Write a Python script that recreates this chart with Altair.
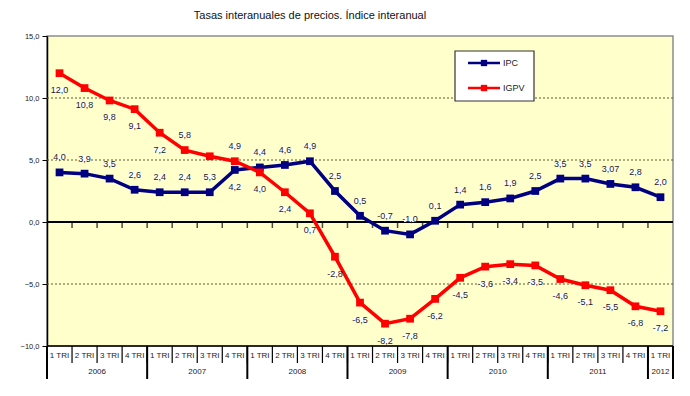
import altair as alt
import pandas as pd

# ---------------- data ----------------
quarters = ["1 TRI", "2 TRI", "3 TRI", "4 TRI"] * 6 + ["1 TRI"]
years = ["2006", "2007", "2008", "2009", "2010", "2011", "2012"]
year_quarters = [4, 4, 4, 4, 4, 4, 1]

ipc = [4.0, 3.9, 3.5, 2.6, 2.4, 2.4, 2.4, 4.2, 4.4, 4.6, 4.9, 2.5, 0.5,
       -0.7, -1.0, 0.1, 1.4, 1.6, 1.9, 2.5, 3.5, 3.5, 3.07, 2.8, 2.0]
igpv = [12.0, 10.8, 9.8, 9.1, 7.2, 5.8, 5.3, 4.9, 4.0, 2.4, 0.7, -2.8, -6.5,
        -8.2, -7.8, -6.2, -4.5, -3.6, -3.4, -3.5, -4.6, -5.1, -5.5, -6.8, -7.2]
ipc_labels = ["4,0", "3,9", "3,5", "2,6", "2,4", "2,4", "5,3", "4,2", "4,4",
              "4,6", "4,9", "2,5", "0,5", "-0,7", "-1,0", "0,1", "1,4", "1,6",
              "1,9", "2,5", "3,5", "3,5", "3,07", "2,8", "2,0"]
igpv_labels = ["12,0", "10,8", "9,8", "9,1", "7,2", "5,8", "", "4,9", "4,0",
               "2,4", "0,7", "-2,8", "-6,5", "-8,2", "-7,8", "-6,2", "-4,5",
               "-3,6", "-3,4", "-3,5", "-4,6", "-5,1", "-5,5", "-6,8", "-7,2"]
series_names = ["IPC", "IGPV"]
series_colors = ["#000080", "#FF0000"]
grid_values = [-5, 5, 10]
title_text = "Tasas interanuales de precios. Índice interanual"

# label placement exceptions (index of points whose label sits on the other side)
ipc_below = [7]
igpv_above = [5, 7]

FONT = "Liberation Sans"
W, H = 626, 310
n = len(quarters)

# ---------------- tables ----------------
rows = []
for i in range(n):
    rows.append({"x": i + 0.5, "v": ipc[i], "s": "IPC", "lab": ipc_labels[i],
                 "side": "below" if i in ipc_below else "above"})
for i in range(n):
    rows.append({"x": i + 0.5, "v": igpv[i], "s": "IGPV", "lab": igpv_labels[i],
                 "side": "above" if i in igpv_above else "below"})
df = pd.DataFrame(rows)
lab_df = df[df["lab"] != ""]

xs = alt.Scale(domain=[0, n], nice=False, zero=False)
ys = alt.Scale(domain=[-10, 15], nice=False, zero=False)
yaxis = alt.Axis(values=[-10, -5, 0, 5, 10, 15], grid=False, title=None,
                 labelExpr="replace(format(datum.value, '.1f'), '.', ',')",
                 labelFont=FONT, labelFontSize=7.5, labelColor="#222222",
                 domainColor="#000000", domainWidth=1.5, tickColor="#000000",
                 tickSize=5, labelPadding=3)
X = lambda f="x": alt.X(f + ":Q", scale=xs, axis=None)
Y = lambda f="v": alt.Y(f + ":Q", scale=ys, axis=yaxis)
color = alt.Color("s:N", scale=alt.Scale(domain=series_names, range=series_colors), legend=None)

# grid
grid = alt.Chart(pd.DataFrame({"v": grid_values})).mark_rule(
    color="#5a5a30", strokeDash=[2, 2], strokeWidth=1).encode(y=Y())
zero = alt.Chart(pd.DataFrame({"v": [0]})).mark_rule(
    color="#000000", strokeWidth=2).encode(y=Y())
bottom = alt.Chart(pd.DataFrame({"v": [-10]})).mark_rule(
    color="#000000", strokeWidth=1.5).encode(y=Y())
zticks = alt.Chart(pd.DataFrame({"x": list(range(1, n)), "v": [0] * (n - 1)})).mark_tick(
    orient="vertical", size=6, thickness=1.5, color="#000000", yOffset=3).encode(x=X(), y=Y())

# series
lines = alt.Chart(df).mark_line(strokeWidth=3.5).encode(x=X(), y=Y(), color=color, detail="s:N")
pts = alt.Chart(df).mark_point(shape="square", filled=True, size=60, opacity=1).encode(
    x=X(), y=Y(), color=color)

# labels with white boxes
box_shape = "M-1.5,-0.65L1.5,-0.65L1.5,0.65L-1.5,0.65Z"
label_layers = []
for side, off in [("above", -15), ("below", 17)]:
    sub = lab_df[lab_df["side"] == side]
    label_layers.append(alt.Chart(sub).mark_point(
        shape=box_shape, filled=True, color="white", opacity=1, size=64, yOffset=off
    ).encode(x=X(), y=Y()))
    label_layers.append(alt.Chart(sub).mark_text(
        font=FONT, fontSize=9, color="#222222", yOffset=off, baseline="middle"
    ).encode(x=X(), y=Y(), text="lab:N"))

# category axis below the plot
qdf = pd.DataFrame({"x": [i + 0.5 for i in range(n)], "q": quarters})
qtext = alt.Chart(qdf).mark_text(font=FONT, fontSize=8, color="#222222", baseline="middle").encode(
    x=X(), y=alt.value(H + 10), text="q:N")
bdf = pd.DataFrame({"x": list(range(0, n + 1))})
qsep = alt.Chart(bdf).mark_rule(color="#000000", strokeWidth=1.2).encode(
    x=X(), y=alt.value(H), y2=alt.value(H + 17))
ybounds, ycenters, acc = [0], [], 0
for c in year_quarters:
    ycenters.append(acc + c / 2)
    acc += c
    ybounds.append(acc)
ydf = pd.DataFrame({"x": ycenters, "yr": years})
ytext = alt.Chart(ydf).mark_text(font=FONT, fontSize=8, color="#222222", baseline="middle").encode(
    x=X(), y=alt.value(H + 26), text="yr:N")
ysep = alt.Chart(pd.DataFrame({"x": ybounds})).mark_rule(color="#000000", strokeWidth=2).encode(
    x=X(), y=alt.value(H), y2=alt.value(H + 33))

# legend (manual)
one = pd.DataFrame({"a": [0]})
legend_layers = [alt.Chart(one).mark_rect(fill="white", stroke="#333333", strokeWidth=1.2).encode(
    x=alt.value(408), x2=alt.value(487), y=alt.value(15), y2=alt.value(65))]
for k, (nm, col) in enumerate(zip(series_names, series_colors)):
    yy = 27 + 25 * k
    legend_layers.append(alt.Chart(one).mark_rule(color=col, strokeWidth=2.5).encode(
        x=alt.value(421), x2=alt.value(453), y=alt.value(yy)))
    legend_layers.append(alt.Chart(one).mark_point(shape="square", filled=True, color=col,
                                                   size=40, opacity=1).encode(
        x=alt.value(437), y=alt.value(yy)))
    legend_layers.append(alt.Chart(one).mark_text(font=FONT, fontSize=9, color="#222222",
                                                  align="left", baseline="middle").encode(
        x=alt.value(456), y=alt.value(yy), text=alt.value(nm)))

title = alt.Chart(one).mark_text(font=FONT, fontSize=11, color="#111111",
                                 baseline="middle").encode(
    x=alt.value(263), y=alt.value(-20), text=alt.value(title_text))

chart = alt.layer(
    grid, bottom, zero, zticks, lines, pts, *label_layers,
    qsep, ysep, qtext, ytext, *legend_layers, title
).properties(
    width=W, height=H,
    autosize=alt.AutoSizeParams(type="none"),
    padding={"left": 39, "top": 28, "right": 9, "bottom": 40},
    background="white",
).configure_view(fill="#FFFFCC", stroke="#8c8c8c", strokeWidth=1.5)

chart.save("out.html", embed_options={"renderer": "svg", "actions": False})
